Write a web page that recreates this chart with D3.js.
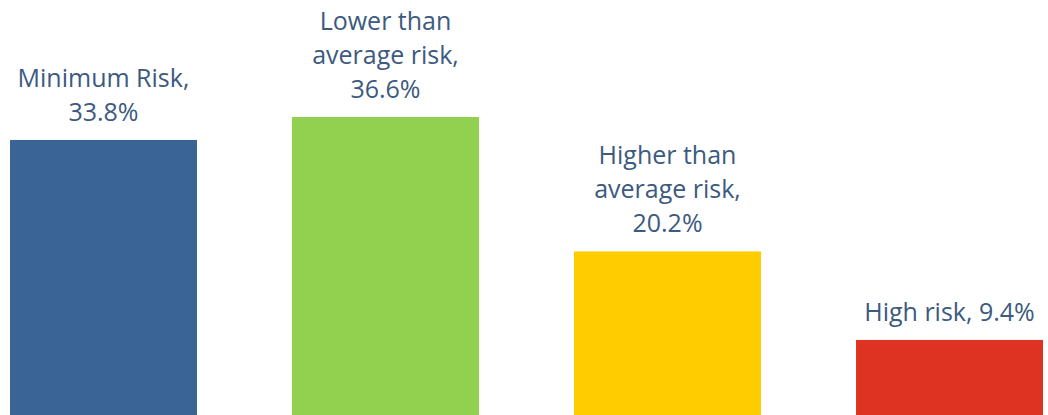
<!DOCTYPE html>
<html>
<head>
<meta charset="utf-8">
<script src="https://cdn.jsdelivr.net/npm/d3@7"></script>
<style>
  body { margin: 0; background: #fff; }
</style>
</head>
<body>
<div id="chart-area"></div>
<script>
var categories = ["Minimum Risk", "Lower than average risk", "Higher than average risk", "High risk"];
var values = [33.8, 36.6, 20.2, 9.4];
// how each label breaks into lines (last line carries the value)
var labelLines = [
  ["Minimum Risk,"],
  ["Lower than", "average risk,"],
  ["Higher than", "average risk,"],
  []
];
var colors = ["#3a6496", "#92d050", "#ffcc00", "#de3323"];

var width = 1048, height = 415;

var svg = d3.select("#chart-area").append("svg")
    .attr("width", width)
    .attr("height", height);

var x = d3.scaleBand()
    .domain(categories)
    .range([10, 1043])
    .paddingInner(0.337)
    .paddingOuter(0);

var y = d3.scaleLinear()
    .domain([0, 36.6])
    .range([417, 117]);

svg.selectAll("rect")
  .data(values)
  .enter()
  .append("rect")
    .attr("x", (d, i) => x(categories[i]))
    .attr("y", d => y(d))
    .attr("width", x.bandwidth())
    .attr("height", d => y(0) - y(d))
    .attr("fill", (d, i) => colors[i]);

var lineH = 34;
var labels = svg.selectAll("text.lbl")
  .data(values)
  .enter()
  .append("text")
    .attr("class", "lbl")
    .attr("text-anchor", "middle")
    .attr("font-family", "'Open Sans', sans-serif")
    .attr("font-size", 25)
    .attr("fill", "#3d5a80");

labels.each(function(d, i) {
  var t = d3.select(this);
  var cx = x(categories[i]) + x.bandwidth() / 2;
  var lines = labelLines[i].slice();
  if (lines.length) lines.push(d.toFixed(1) + "%");
  else lines.push(categories[i] + ", " + d.toFixed(1) + "%");
  var base = y(d) - 19;
  lines.forEach((s, j) => {
    t.append("tspan")
      .attr("x", cx)
      .attr("y", base - (lines.length - 1 - j) * lineH)
      .text(s);
  });
});
</script>
</body>
</html>
